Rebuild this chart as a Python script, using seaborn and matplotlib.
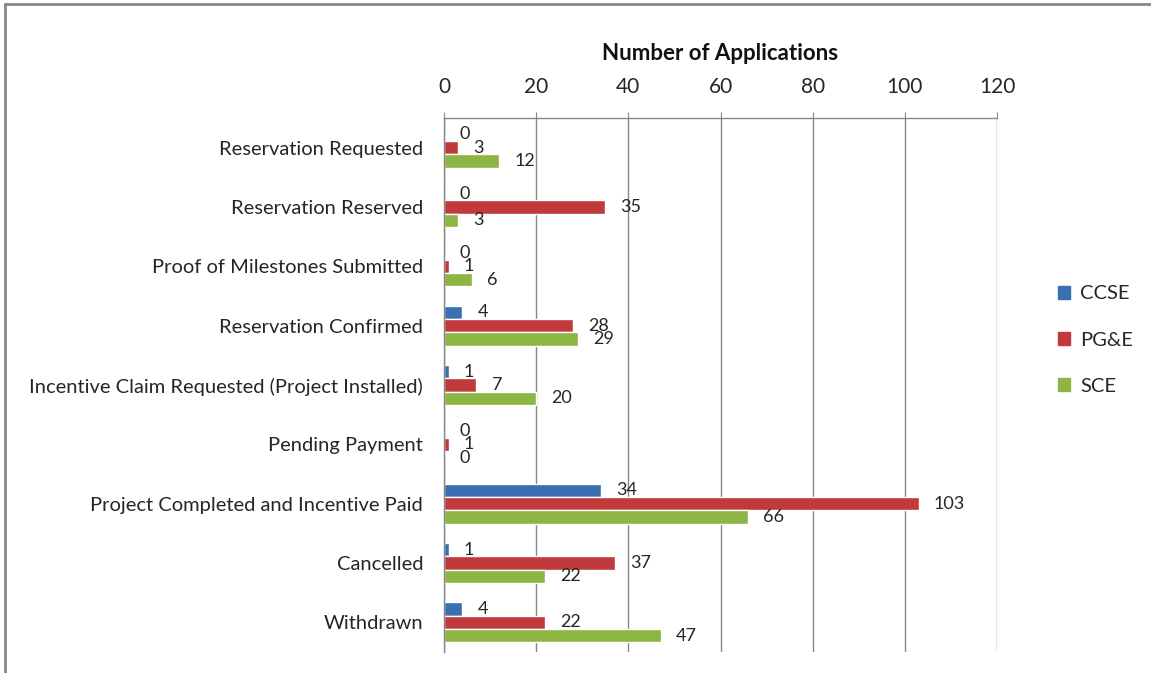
import numpy as np
import pandas as pd
import seaborn as sns
import matplotlib.pyplot as plt
from matplotlib.patches import Rectangle
from matplotlib.lines import Line2D

categories = [
    'Reservation Requested',
    'Reservation Reserved',
    'Proof of Milestones Submitted',
    'Reservation Confirmed',
    'Incentive Claim Requested (Project Installed)',
    'Pending Payment',
    'Project Completed and Incentive Paid',
    'Cancelled',
    'Withdrawn',
]
programs = ['CCSE', 'PG&E', 'SCE']
ccse = [0, 0, 0, 4, 1, 0, 34, 1, 4]
pge = [3, 35, 1, 28, 7, 1, 103, 37, 22]
sce = [12, 3, 6, 29, 20, 0, 66, 22, 47]
x_ticks = [0, 20, 40, 60, 80, 100, 120]

colors = ['#3A6FB0', '#C0393B', '#8CB544']

rows = []
for prog, vals in zip(programs, [ccse, pge, sce]):
    for cat, v in zip(categories, vals):
        rows.append({'Status': cat, 'Program': prog, 'Applications': v})
df = pd.DataFrame(rows)

sns.set_style('white')
plt.rcParams['font.family'] = ['Lato', 'DejaVu Sans']

fig = plt.figure(figsize=(11.51, 6.73), dpi=100)
ax = fig.add_axes([444 / 1151, 1 - 652 / 673, (997 - 444) / 1151, (652 - 118) / 673])

sns.barplot(data=df, y='Status', x='Applications', hue='Program', orient='h',
            palette=colors, width=0.67, ax=ax, legend=False, saturation=1)

for cont in ax.containers:
    ax.bar_label(cont, padding=11, fontsize=13, color='#262626')

ax.set_xlim(0, 120)
ax.set_xticks(x_ticks)
ax.xaxis.tick_top()
ax.xaxis.set_label_position('top')
ax.set_xlabel('Number of Applications', fontsize=16, fontweight='bold', labelpad=12, color='#111111')
ax.set_ylabel('')
ax.tick_params(axis='x', labelsize=15, colors='#262626', length=4, color='#868686', pad=11)
ax.tick_params(axis='y', which='major', labelsize=14.5, length=0, pad=15, labelcolor='#262626')
ax.set_yticks(np.arange(-0.5, len(categories), 1), minor=True)
ax.tick_params(axis='y', which='minor', length=6, color='#868686', width=1)
ax.grid(axis='x', color='#868686', linewidth=1)
ax.set_axisbelow(True)
for side in ['bottom', 'right']:
    ax.spines[side].set_visible(False)
for side in ['top', 'left']:
    ax.spines[side].set_color('#868686')
    ax.spines[side].set_linewidth(1)

handles = [Rectangle((0, 0), 1, 1, color=c) for c in colors]
fig.legend(handles, programs, loc='center left', bbox_to_anchor=(1040 / 1151, 1 - 340 / 673),
           frameon=False, fontsize=14.5, handlelength=0.6, handleheight=0.6,
           labelspacing=1.45, handletextpad=0.5, labelcolor='#262626')

# chart area border (only top and left edges show in the crop)
fig.add_artist(Line2D([0.004, 1.0], [0.994, 0.994], transform=fig.transFigure,
                      color='#888888', linewidth=2))
fig.add_artist(Line2D([0.004, 0.004], [0.0, 0.994], transform=fig.transFigure,
                      color='#888888', linewidth=2))

fig.savefig('out.png', dpi=100)
